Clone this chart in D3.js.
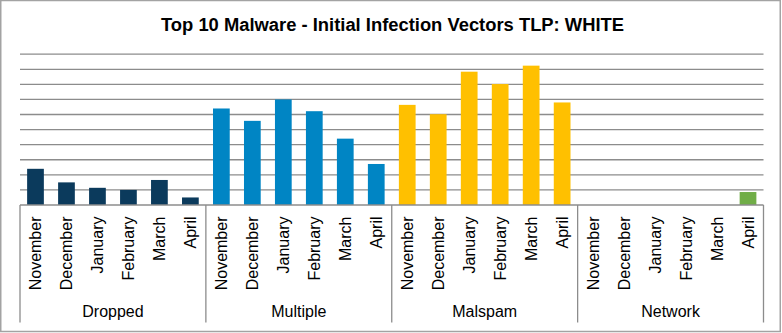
<!DOCTYPE html>
<html><head><meta charset="utf-8">
<script src="https://cdn.jsdelivr.net/npm/d3@7"></script>
<style>html,body{margin:0;padding:0;background:#fff;}svg{display:block;}</style>
</head><body>
<svg id="chart" width="782" height="333"></svg>
<script>
const title = "Top 10 Malware - Initial Infection Vectors TLP: WHITE";
const months = ["November","December","January","February","March","April"];
const groups = ["Dropped","Multiple","Malspam","Network"];
const dropped  = [12.0, 7.5, 5.7, 5.0, 8.3, 2.5];
const multiple = [32.0, 27.9, 35.0, 31.1, 22.0, 13.6];
const malspam  = [33.2, 30.1, 44.2, 40.1, 46.2, 34.0];
const network  = [0, 0, 0, 0, 0, 4.3];
const gridTicks = [5,10,15,20,25,30,35,40,45,50];
const colors = ["#0b3a5c","#0085c4","#ffc000","#70ad47"];

const seriesVals = [dropped, multiple, malspam, network];
const data = [];
groups.forEach((g,gi)=>months.forEach((m,mi)=>data.push({key:g+"|"+m, group:g, gi, month:m, value:seriesVals[gi][mi]})));

const svg = d3.select("#chart");
const plotLeft = 20, plotRight = 763.5, plotTop = 54.2, plotBase = 205;
const x = d3.scaleBand().domain(data.map(d=>d.key)).range([plotLeft,plotRight]).paddingInner(0.46).paddingOuter(0.23);
const y = d3.scaleLinear().domain([0,50]).range([plotBase, plotTop]);
const gx = d3.scaleBand().domain(groups).range([plotLeft,plotRight]);

// border
svg.append("rect").attr("x",0.75).attr("y",0.5).attr("width",779.5).attr("height",331)
  .attr("fill","#fff").attr("stroke","#a3a3a3").attr("stroke-width",1.5);

// title
svg.append("text").attr("x",392.5).attr("y",30.5).attr("text-anchor","middle")
  .attr("font-family","'Liberation Sans', Arial, sans-serif").attr("font-weight","bold")
  .attr("font-size",17.5).attr("textLength",463).attr("lengthAdjust","spacingAndGlyphs")
  .attr("fill","#000").text(title);

// gridlines
svg.append("g").selectAll("line").data(gridTicks).join("line")
  .attr("x1",plotLeft).attr("x2",plotRight).attr("y1",d=>y(d)).attr("y2",d=>y(d))
  .attr("stroke","#8c8c8c").attr("stroke-width",1.3);

// bars
svg.append("g").selectAll("rect").data(data).join("rect")
  .attr("x",d=>x(d.key)).attr("width",x.bandwidth())
  .attr("y",d=>y(d.value)).attr("height",d=>plotBase-y(d.value))
  .attr("fill",d=>colors[d.gi]);

// baseline
svg.append("line").attr("x1",plotLeft).attr("x2",plotRight).attr("y1",plotBase).attr("y2",plotBase)
  .attr("stroke","#8c8c8c").attr("stroke-width",1.3);

// group dividers
const divs = groups.map(g=>gx(g)).concat([plotRight]);
svg.append("g").selectAll("line").data(divs).join("line")
  .attr("x1",d=>d).attr("x2",d=>d).attr("y1",plotBase).attr("y2",322.5)
  .attr("stroke","#8c8c8c").attr("stroke-width",1.3);

// month labels
svg.append("g").selectAll("text").data(data).join("text")
  .attr("transform",d=>`translate(${x(d.key)+x.bandwidth()/2},216.5) rotate(-90)`)
  .attr("dy","0.36em").attr("text-anchor","end")
  .attr("font-family","'Liberation Sans', Arial, sans-serif").attr("font-size",16)
  .attr("fill","#000").text(d=>d.month);

// group labels
svg.append("g").selectAll("text").data(groups).join("text")
  .attr("x",g=>gx(g)+gx.bandwidth()/2).attr("y",316.5).attr("text-anchor","middle")
  .attr("font-family","'Liberation Sans', Arial, sans-serif").attr("font-size",16)
  .attr("fill","#000").text(g=>g);
</script>
</body></html>
